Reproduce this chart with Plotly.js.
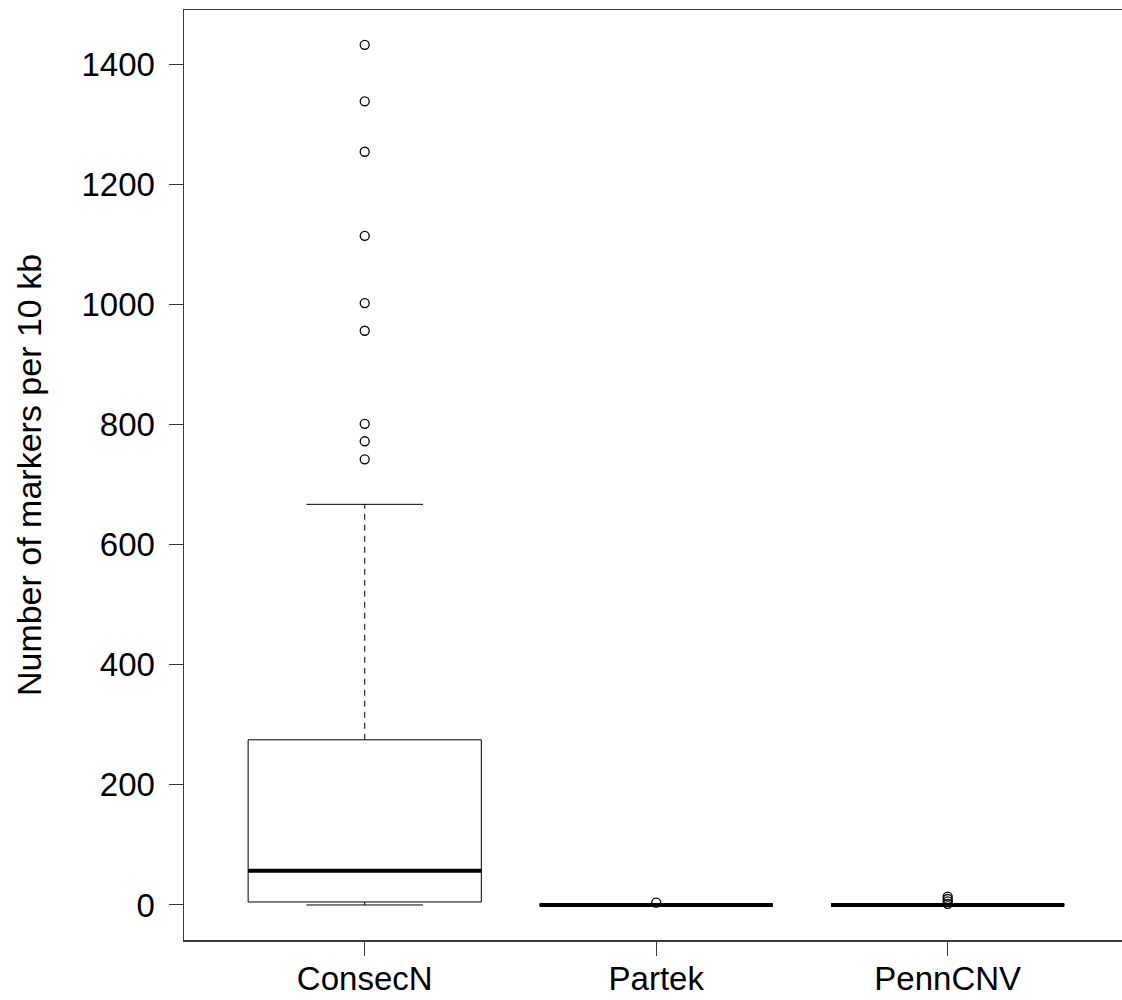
<!DOCTYPE html>
<html>
<head>
<meta charset="utf-8">
<script src="https://cdn.plot.ly/plotly-3.0.1.min.js"></script>
<style>html,body{margin:0;padding:0;background:#fff;}</style>
</head>
<body>
<div id="chart" style="width:1122px;height:1000px;"></div>
<script>
// Data
const categories = ['ConsecN', 'Partek', 'PennCNV'];
const lowerWhisker = [0, 0, 0];
const q1 = [5, 0, 0];
const median = [57, 0, 0];
const q3 = [275, 0, 0];
const upperWhisker = [667, 0, 0];
const outliersConsecN = [742, 772, 801, 956, 1002, 1114, 1254, 1338, 1432];
const outliersPartek = [4];
const outliersPennCNV = [2, 6, 10, 14];
const yTickValues = [0, 200, 400, 600, 800, 1000, 1200, 1400];

const positions = categories.map((c, i) => i + 1);
const boxWidth = 0.8;
const ink = '#000000';
const frame = '#3a3a3a';
const font = 'Liberation Sans, Arial, sans-serif';

const traces = [];

// boxes (quartiles only; whiskers drawn separately, dashed like R)
traces.push({
  type: 'box',
  x: positions,
  q1: q1,
  median: median,
  q3: q3,
  lowerfence: q1,
  upperfence: q3,
  width: boxWidth,
  whiskerwidth: 0,
  fillcolor: 'rgba(255,255,255,0)',
  line: {color: ink, width: 1},
  boxpoints: false,
  hoverinfo: 'skip',
  showlegend: false
});

positions.forEach((p, i) => {
  // dashed whisker stems
  traces.push({
    type: 'scatter', mode: 'lines',
    x: [p, p, null, p, p],
    y: [q3[i], upperWhisker[i], null, q1[i], lowerWhisker[i]],
    line: {color: ink, width: 1, dash: '6px,5px'},
    hoverinfo: 'skip', showlegend: false
  });
  // whisker caps (half the box width)
  traces.push({
    type: 'scatter', mode: 'lines',
    x: [p - boxWidth / 4, p + boxWidth / 4, null, p - boxWidth / 4, p + boxWidth / 4],
    y: [upperWhisker[i], upperWhisker[i], null, lowerWhisker[i], lowerWhisker[i]],
    line: {color: ink, width: 1},
    hoverinfo: 'skip', showlegend: false
  });
  // thick median
  traces.push({
    type: 'scatter', mode: 'lines',
    x: [p - boxWidth / 2, p + boxWidth / 2],
    y: [median[i], median[i]],
    line: {color: ink, width: 4},
    hoverinfo: 'skip', showlegend: false
  });
});

// outliers
const outlierSets = [outliersConsecN, outliersPartek, outliersPennCNV];
outlierSets.forEach((vals, i) => {
  traces.push({
    type: 'scatter', mode: 'markers',
    x: vals.map(() => positions[i]),
    y: vals,
    marker: {symbol: 'circle-open', size: 9, color: ink, line: {width: 1.3, color: ink}},
    hoverinfo: 'skip', showlegend: false
  });
});

const layout = {
  width: 1122,
  height: 1000,
  paper_bgcolor: '#ffffff',
  plot_bgcolor: '#ffffff',
  margin: {l: 184, r: 0, t: 10, b: 60},
  showlegend: false,
  font: {family: font, color: ink},
  xaxis: {
    range: [0.38, 3.598],
    tickmode: 'array',
    tickvals: positions,
    ticktext: categories,
    ticks: 'outside',
    ticklen: 14,
    tickwidth: 1,
    tickcolor: frame,
    tickfont: {family: font, size: 33, color: ink},
    ticklabelstandoff: -5,
    showline: true,
    linecolor: frame,
    linewidth: 1.5,
    mirror: true,
    showgrid: false,
    zeroline: false
  },
  yaxis: {
    range: [-58.3, 1490],
    tickmode: 'array',
    tickvals: yTickValues,
    ticktext: yTickValues.map(String),
    ticks: 'outside',
    ticklen: 14,
    tickwidth: 1,
    tickcolor: frame,
    tickfont: {family: font, size: 33, color: ink},
    ticklabelstandoff: 7,
    showline: true,
    linecolor: frame,
    linewidth: 1.5,
    mirror: false,
    showgrid: false,
    zeroline: false,
    title: {text: 'Number of markers per 10 kb', font: {family: font, size: 34, color: ink}, standoff: 29}
  }
};

Plotly.newPlot('chart', traces, layout, {displayModeBar: false, staticPlot: true});
</script>
</body>
</html>
